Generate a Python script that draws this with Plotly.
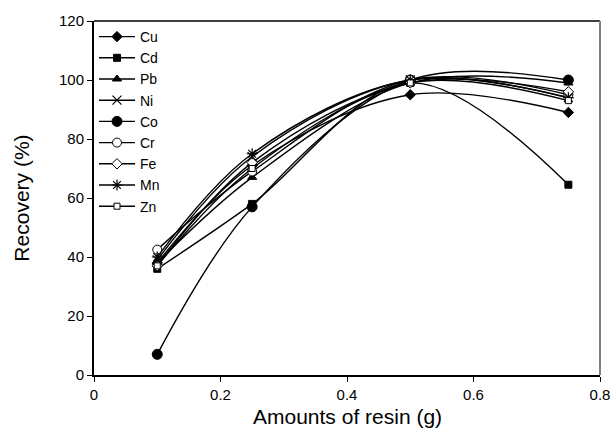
import plotly.graph_objects as go

x_vals = [0.1, 0.25, 0.5, 0.75]

series_names = ["Cu", "Cd", "Pb", "Ni", "Co", "Cr", "Fe", "Mn", "Zn"]
cu = [38, 71, 95, 89]
cd = [36, 58, 99, 64.5]
pb = [38, 67, 99, 99]
ni = [39, 74, 100, 94]
co = [7, 57, 100, 100]
cr = [42.5, 69, 100, 95]
fe = [37, 72, 99, 96]
mn = [40, 75, 100, 94]
zn = [37, 70, 99, 93]
series_values = [cu, cd, pb, ni, co, cr, fe, mn, zn]

x_ticks = [0, 0.2, 0.4, 0.6, 0.8]
x_tick_labels = ["0", "0.2", "0.4", "0.6", "0.8"]
y_ticks = [0, 20, 40, 60, 80, 100, 120]

styles = {
    "Cu": dict(symbol="diamond", size=8, color="black", line=dict(color="black", width=1)),
    "Cd": dict(symbol="square", size=7, color="black", line=dict(color="black", width=1)),
    "Pb": dict(symbol="triangle-up", size=8, color="black", line=dict(color="black", width=1)),
    "Ni": dict(symbol="x-thin-open", size=9, color="black", line=dict(color="black", width=1.2)),
    "Co": dict(symbol="circle", size=10, color="black", line=dict(color="black", width=1)),
    "Cr": dict(symbol="circle", size=9, color="white", line=dict(color="black", width=1)),
    "Fe": dict(symbol="diamond", size=8, color="white", line=dict(color="black", width=1)),
    "Mn": dict(symbol="asterisk-open", size=9, color="black", line=dict(color="black", width=1.2)),
    "Zn": dict(symbol="square", size=6, color="white", line=dict(color="black", width=1)),
}

fig = go.Figure()
for name, vals in zip(series_names, series_values):
    fig.add_trace(go.Scatter(
        x=x_vals, y=vals, name=name, mode="lines+markers",
        line=dict(color="black", width=1.4, shape="spline", smoothing=1.0),
        marker=styles[name],
    ))

font = "Liberation Sans, Arial, sans-serif"
fig.update_layout(
    width=614, height=439,
    margin=dict(l=94, r=14, t=21, b=64),
    plot_bgcolor="white", paper_bgcolor="white",
    font=dict(family=font, size=14, color="black"),
    showlegend=True,
    legend=dict(x=0.0, y=1.0, xanchor="left", yanchor="top",
                bgcolor="rgba(0,0,0,0)", font=dict(size=14, family=font),
                tracegroupgap=0, itemwidth=36),
    xaxis=dict(range=[0, 0.8], tickvals=x_ticks, ticktext=x_tick_labels,
               ticks="outside", ticklen=5, tickcolor="black",
               showline=True, linecolor="black", linewidth=2, automargin=False,
               showgrid=False, zeroline=False, tickfont=dict(size=15)),
    yaxis=dict(range=[0, 120], tickvals=y_ticks,
               ticks="outside", ticklen=5, tickcolor="black",
               showline=True, linecolor="black", linewidth=2, automargin=False,
               showgrid=False, zeroline=False, tickfont=dict(size=15)),
    annotations=[
        dict(text="Amounts of resin (g)", xref="paper", yref="paper",
             x=0.5, y=-0.118, xanchor="center", yanchor="middle",
             showarrow=False, font=dict(size=21, family=font)),
        dict(text="Recovery (%)", xref="paper", yref="paper",
             x=-0.145, y=0.5, xanchor="center", yanchor="middle", textangle=-90,
             showarrow=False, font=dict(size=21, family=font)),
    ],
    shapes=[
        dict(type="line", xref="paper", yref="paper", x0=0, x1=1, y0=1, y1=1,
             line=dict(color="black", width=1.5)),
        dict(type="line", xref="paper", yref="paper", x0=1, x1=1, y0=0, y1=1,
             line=dict(color="#808080", width=2)),
    ],
)

fig.write_html("out.html", config={"displayModeBar": False},
               post_script="document.body.style.margin='0';document.body.style.overflow='hidden';")
